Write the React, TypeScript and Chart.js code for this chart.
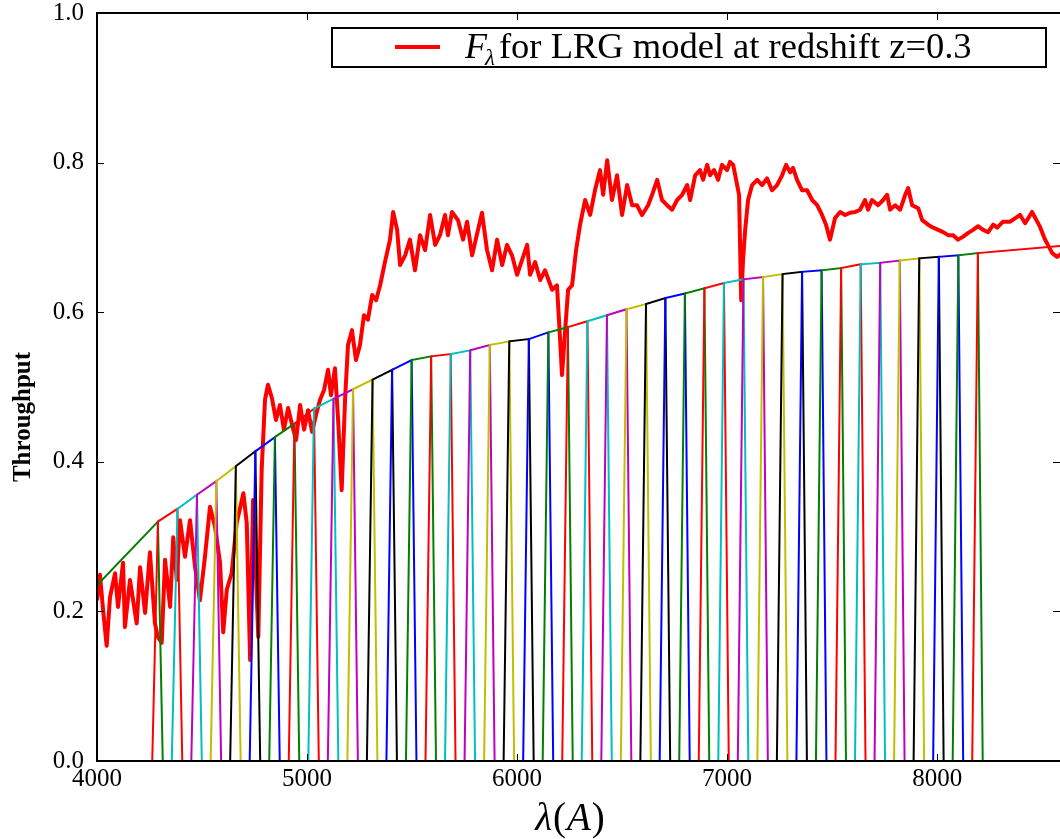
import React, { useEffect, useRef } from "react";
import { Chart, registerables } from "chart.js";

Chart.register(...registerables);

const FONT = '"Liberation Serif", "Times New Roman", serif';

const X_MIN = 4000;
const X_MAX = 8585;
const xTicks = [4000, 5000, 6000, 7000, 8000];
const yTicks = [0, 0.2, 0.4, 0.6, 0.8, 1.0];

const legendLabel = "for LRG model at redshift z=0.3";
const yTitle = "Throughput";

// LRG spectrum F_lambda (redshifted z=0.3)
const specWave = [
  4000, 4014, 4029, 4046, 4062, 4086, 4100, 4124, 4133, 4157,
  4189, 4205, 4229, 4252, 4276, 4290, 4308, 4324, 4348, 4363,
  4380, 4395, 4419, 4443, 4467, 4490, 4514, 4538, 4562, 4586,
  4601, 4618, 4641, 4665, 4697, 4713, 4729, 4743, 4768, 4784,
  4800, 4814, 4833, 4852, 4871, 4890, 4910, 4929, 4948, 4967,
  4986, 5005, 5024, 5043, 5062, 5081, 5100, 5114, 5133, 5148,
  5165, 5181, 5195, 5214, 5233, 5252, 5271, 5290, 5310, 5329,
  5348, 5371, 5395, 5410, 5429, 5443, 5467, 5490, 5514, 5538,
  5562, 5586, 5610, 5633, 5657, 5671, 5690, 5719, 5743, 5762,
  5786, 5814, 5833, 5857, 5881, 5905, 5929, 5952, 5976, 6000,
  6024, 6048, 6062, 6086, 6110, 6133, 6167, 6190, 6205, 6214,
  6229, 6243, 6262, 6281, 6300, 6324, 6348, 6371, 6395, 6410,
  6429, 6452, 6476, 6500, 6524, 6548, 6571, 6595, 6624, 6643,
  6667, 6690, 6714, 6738, 6762, 6786, 6810, 6824, 6848, 6871,
  6886, 6905, 6919, 6938, 6957, 6976, 7000, 7014, 7029, 7043,
  7057, 7067, 7076, 7086, 7100, 7119, 7143, 7167, 7190, 7214,
  7238, 7262, 7281, 7300, 7314, 7333, 7357, 7381, 7405, 7429,
  7452, 7471, 7490, 7514, 7538, 7562, 7586, 7610, 7633, 7657,
  7671, 7690, 7719, 7743, 7762, 7776, 7800, 7824, 7848, 7862,
  7881, 7910, 7929, 7957, 7981, 8005, 8029, 8052, 8076, 8100,
  8124, 8148, 8171, 8195, 8219, 8243, 8267, 8286, 8314, 8348,
  8395, 8419, 8452, 8490, 8514, 8548, 8571, 8595,
];
const specFlux = [
  0.215, 0.249, 0.202, 0.154, 0.219, 0.251, 0.206, 0.265, 0.179, 0.242,
  0.184, 0.259, 0.198, 0.279, 0.184, 0.166, 0.158, 0.269, 0.206, 0.299,
  0.242, 0.322, 0.273, 0.322, 0.259, 0.215, 0.273, 0.34, 0.313, 0.265,
  0.172, 0.229, 0.251, 0.318, 0.358, 0.318, 0.135, 0.349, 0.166, 0.389,
  0.483, 0.503, 0.485, 0.456, 0.476, 0.443, 0.472, 0.449, 0.429, 0.476,
  0.443, 0.469, 0.44, 0.463, 0.483, 0.496, 0.523, 0.489, 0.525, 0.456,
  0.362, 0.483, 0.556, 0.576, 0.536, 0.556, 0.596, 0.59, 0.623, 0.616,
  0.636, 0.667, 0.697, 0.734, 0.71, 0.663, 0.676, 0.697, 0.656, 0.703,
  0.683, 0.73, 0.69, 0.703, 0.73, 0.703, 0.734, 0.723, 0.697, 0.721,
  0.676, 0.71, 0.733, 0.683, 0.656, 0.697, 0.663, 0.69, 0.676, 0.65,
  0.67, 0.69, 0.65, 0.667, 0.643, 0.656, 0.63, 0.636, 0.563, 0.516,
  0.576, 0.63, 0.636, 0.683, 0.717, 0.75, 0.73, 0.763, 0.79, 0.757,
  0.803, 0.75, 0.783, 0.73, 0.77, 0.743, 0.743, 0.73, 0.743, 0.757,
  0.777, 0.75, 0.743, 0.737, 0.75, 0.757, 0.77, 0.75, 0.783, 0.79,
  0.777, 0.797, 0.783, 0.79, 0.777, 0.797, 0.79, 0.801, 0.797, 0.777,
  0.757, 0.616, 0.67, 0.71, 0.75, 0.77, 0.777, 0.77, 0.779, 0.763,
  0.77, 0.783, 0.797, 0.787, 0.793, 0.777, 0.763, 0.763, 0.75, 0.743,
  0.73, 0.717, 0.697, 0.726, 0.734, 0.73, 0.733, 0.734, 0.737, 0.75,
  0.737, 0.75, 0.743, 0.75, 0.757, 0.737, 0.743, 0.737, 0.757, 0.766,
  0.743, 0.739, 0.723, 0.717, 0.713, 0.71, 0.707, 0.703, 0.703, 0.697,
  0.701, 0.706, 0.71, 0.715, 0.71, 0.707, 0.717, 0.713, 0.721, 0.721,
  0.73, 0.719, 0.734, 0.714, 0.697, 0.679, 0.674, 0.679,
];

// Narrow-band filters: wavelength where each filter starts rising
const filterStart = [
  4263, 4356, 4449, 4541, 4634, 4727, 4820, 4913, 5006, 5099,
  5192, 5285, 5378, 5471, 5564, 5657, 5750, 5843, 5936, 6029,
  6122, 6215, 6308, 6401, 6494, 6587, 6679, 6772, 6865, 6958,
  7051, 7144, 7237, 7330, 7423, 7516, 7609, 7702, 7795, 7888,
  7981, 8074, 8167,
];
// Peak throughput at the top-left corner of each filter
const filterPeak = [
  0.32, 0.337, 0.356, 0.374, 0.394, 0.414, 0.433, 0.451, 0.471, 0.484,
  0.497, 0.51, 0.523, 0.536, 0.541, 0.544, 0.549, 0.556, 0.561, 0.564,
  0.573, 0.58, 0.588, 0.596, 0.604, 0.611, 0.619, 0.625, 0.632, 0.639,
  0.644, 0.647, 0.651, 0.654, 0.656, 0.659, 0.664, 0.666, 0.669, 0.672,
  0.674, 0.676, 0.679,
];
const RISE = 27; // Å from foot to shoulder
const FALL_END = 50; // Å past next filter's start where a filter returns to 0

// first (broad) filter, partly outside the plotted range
const firstFilterWave = [4000, 4290, 4313];
const firstFilterThru = [0.235, 0.32, 0.0];
// last (broad) filter tail
const lastFilterEndWave = 8600;
const lastFilterEndThru = 0.689;

// matplotlib classic cycle b g r c m y k
const cycle = ["#0000ff", "#008000", "#ff0000", "#00bfbf", "#bf00bf", "#bfbf00", "#000000"];

const framePlugin = {
  id: "frameLegend",
  afterDraw(chart: any) {
    const { ctx, chartArea: a } = chart;
    const xs = chart.scales.x;
    const ys = chart.scales.y;
    ctx.save();
    // inward ticks
    ctx.strokeStyle = "#000";
    ctx.lineWidth = 1;
    ctx.beginPath();
    for (const v of xTicks) {
      const px = Math.round(xs.getPixelForValue(v)) + 0.5;
      ctx.moveTo(px, a.bottom);
      ctx.lineTo(px, a.bottom - 7);
      ctx.moveTo(px, a.top);
      ctx.lineTo(px, a.top + 7);
    }
    for (const v of yTicks) {
      const py = Math.round(ys.getPixelForValue(v)) + 0.5;
      ctx.moveTo(a.left, py);
      ctx.lineTo(a.left + 7, py);
      ctx.moveTo(a.right, py);
      ctx.lineTo(a.right - 7, py);
    }
    ctx.stroke();
    // frame
    ctx.lineWidth = 2;
    ctx.beginPath();
    ctx.moveTo(a.right + 5, a.top);
    ctx.lineTo(a.left, a.top);
    ctx.lineTo(a.left, a.bottom);
    ctx.lineTo(a.right + 5, a.bottom);
    ctx.stroke();

    // legend box
    const bx = a.left + 235;
    const by = a.top + 15;
    const bw = a.right - 14 - bx;
    const bh = 39;
    ctx.fillStyle = "#fff";
    ctx.fillRect(bx, by, bw, bh);
    ctx.lineWidth = 2;
    ctx.strokeStyle = "#000";
    ctx.strokeRect(bx, by, bw, bh);
    ctx.strokeStyle = "#ff0000";
    ctx.lineWidth = 4;
    ctx.beginPath();
    ctx.moveTo(bx + 63, by + 19);
    ctx.lineTo(bx + 108, by + 19);
    ctx.stroke();
    ctx.fillStyle = "#000";
    ctx.textBaseline = "alphabetic";
    ctx.textAlign = "left";
    let tx = bx + 133;
    const base = by + 30;
    ctx.font = `italic 36px ${FONT}`;
    ctx.fillText("F", tx, base);
    tx += ctx.measureText("F").width - 2;
    ctx.font = `italic 23px ${FONT}`;
    ctx.fillText("λ", tx, base + 7);
    tx += ctx.measureText("λ").width + 4;
    ctx.font = `36.5px ${FONT}`;
    ctx.fillText(legendLabel, tx, base);

    // y-axis title
    ctx.save();
    ctx.translate(24, (a.top + a.bottom) / 2 + 30);
    ctx.rotate(-Math.PI / 2);
    ctx.font = `bold 25px ${FONT}`;
    ctx.textAlign = "center";
    ctx.textBaseline = "middle";
    ctx.fillText(yTitle, 0, 0);
    ctx.restore();

    // x-axis title  λ(A)
    const parts: [string, boolean][] = [["λ", true], ["(", false], ["A", true], [")", false]];
    const fontFor = (it: boolean) => `${it ? "italic " : ""}39px ${FONT}`;
    let total = 0;
    for (const [t, it] of parts) {
      ctx.font = fontFor(it);
      total += ctx.measureText(t).width + 1;
    }
    let x0 = (a.left + a.right) / 2 - 8 - total / 2;
    const xb = a.bottom + 69;
    ctx.textAlign = "left";
    ctx.textBaseline = "alphabetic";
    for (const [t, it] of parts) {
      ctx.font = fontFor(it);
      ctx.fillText(t, x0, xb);
      x0 += ctx.measureText(t).width + 1;
    }
    ctx.restore();
  },
};

export default function App() {
  const ref = useRef<HTMLCanvasElement | null>(null);

  useEffect(() => {
    document.body.style.margin = "0";
    const canvas = ref.current;
    if (!canvas) return;

    const datasets: any[] = [];
    datasets.push({
      label: "spectrum",
      data: specWave.map((w, i) => ({ x: w, y: specFlux[i] })),
      borderColor: "#ff0000",
      borderWidth: 4,
      pointRadius: 0,
      tension: 0,
      borderJoinStyle: "round",
      order: 1000,
    });
    datasets.push({
      label: "filter-first",
      data: firstFilterWave.map((w, i) => ({ x: w, y: firstFilterThru[i] })),
      borderColor: cycle[1],
      borderWidth: 2,
      pointRadius: 0,
      tension: 0,
      order: 999,
    });
    for (let i = 0; i < filterStart.length; i++) {
      const pts: any[] = [
        { x: filterStart[i], y: 0 },
        { x: filterStart[i] + RISE, y: filterPeak[i] },
      ];
      if (i < filterStart.length - 1) {
        pts.push({ x: filterStart[i + 1] + RISE, y: filterPeak[i + 1] });
        pts.push({ x: filterStart[i + 1] + FALL_END, y: 0 });
      } else {
        pts.push({ x: lastFilterEndWave, y: lastFilterEndThru });
      }
      datasets.push({
        label: "filter" + i,
        data: pts,
        borderColor: cycle[(i + 2) % 7],
        borderWidth: 2,
        pointRadius: 0,
        tension: 0,
        order: 900 - i,
      });
    }

    const chart = new Chart(canvas, {
      type: "line",
      data: { datasets },
      plugins: [framePlugin],
      options: {
        animation: false,
        responsive: false,
        devicePixelRatio: 1,
        layout: { padding: { top: 13, left: 0, right: 0, bottom: 0 } },
        plugins: { legend: { display: false }, tooltip: { enabled: false } },
        scales: {
          x: {
            type: "linear",
            min: X_MIN,
            max: X_MAX,
            afterFit: (s: any) => {
              s.height = 78;
              s.paddingLeft = 0;
              s.paddingRight = 0;
              s.paddingTop = 0;
              s.paddingBottom = 0;
            },
            afterBuildTicks: (s: any) => {
              s.ticks = xTicks.map((v) => ({ value: v }));
            },
            grid: { display: false, drawTicks: false, tickLength: 0 },
            border: { display: false },
            ticks: {
              color: "#000",
              padding: 6,
              maxRotation: 0,
              font: { family: FONT, size: 25, lineHeight: 1 },
              callback: (v: any) => String(v),
            },
          },
          y: {
            type: "linear",
            min: 0,
            max: 1,
            afterFit: (s: any) => {
              s.width = 97;
              s.paddingLeft = 0;
              s.paddingRight = 0;
              s.paddingTop = 0;
              s.paddingBottom = 0;
            },
            afterBuildTicks: (s: any) => {
              s.ticks = yTicks.map((v) => ({ value: v }));
            },
            grid: { display: false, drawTicks: false, tickLength: 0 },
            border: { display: false },
            ticks: {
              color: "#000",
              padding: 13,
              font: { family: FONT, size: 25, lineHeight: 1 },
              callback: (v: any) => Number(v).toFixed(1),
            },
          },
        },
      },
    } as any);

    return () => chart.destroy();
  }, []);

  return (
    <div style={{ width: 1060, height: 839 }}>
      <canvas ref={ref} width={1060} height={839} style={{ display: "block" }} />
    </div>
  );
}
